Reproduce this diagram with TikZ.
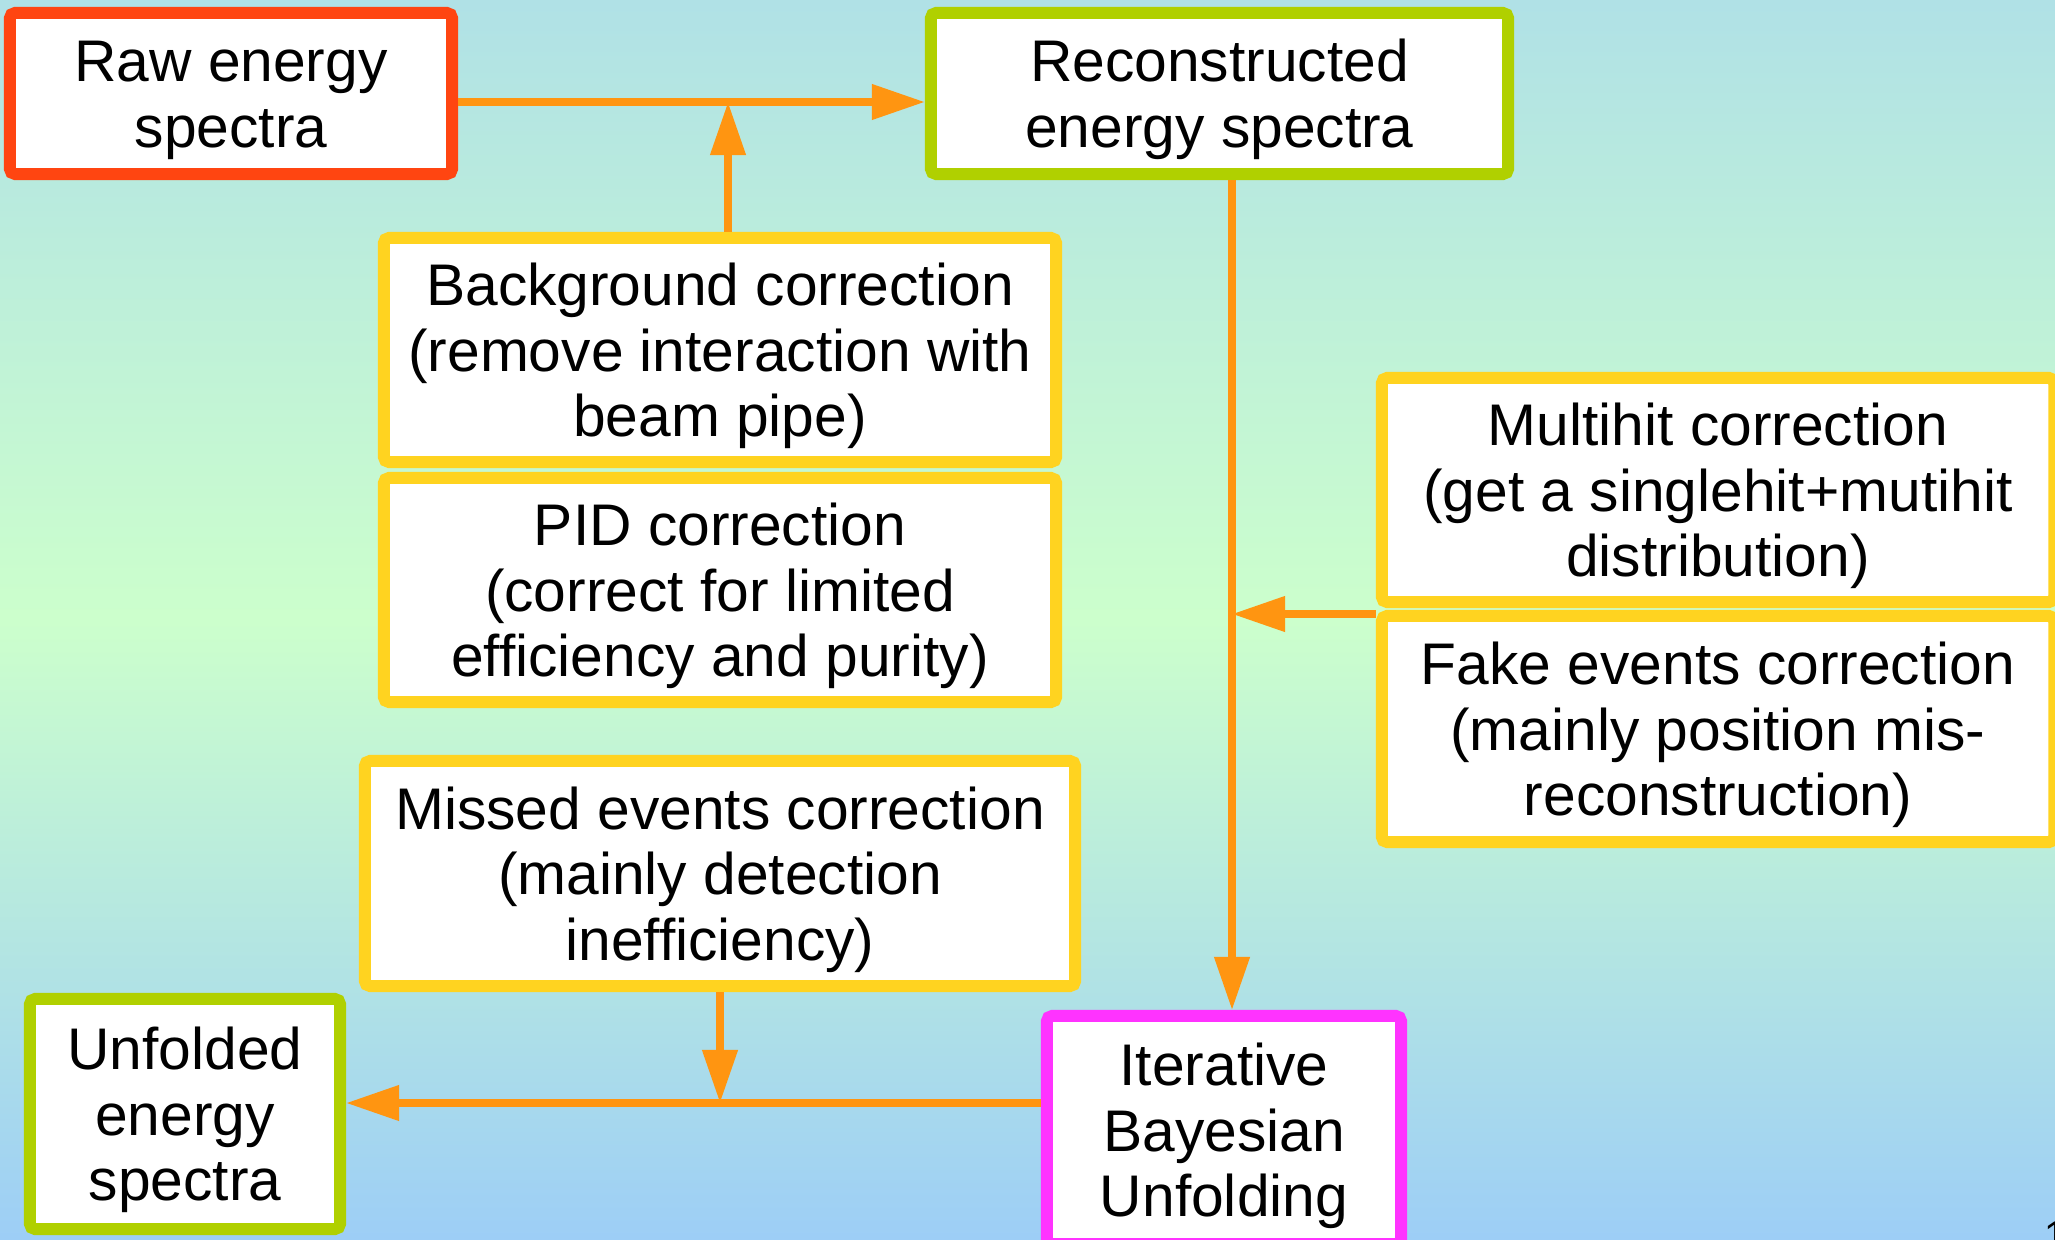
\documentclass[tikz,border=0pt]{standalone}
\usepackage{fontspec}
\setmainfont{Liberation Sans}
\usetikzlibrary{arrows.meta}
\definecolor{bgtop}{RGB}{176,225,230}
\definecolor{bgmid}{RGB}{204,255,204}
\definecolor{bgbot}{RGB}{157,206,246}
\definecolor{rawred}{RGB}{255,69,17}
\definecolor{specgreen}{RGB}{176,208,0}
\definecolor{corryellow}{RGB}{255,211,32}
\definecolor{ibupink}{RGB}{255,51,255}
\definecolor{flowor}{RGB}{255,149,17}
\newcommand{\tstrut}{\rule{0pt}{16pt}}
\newcommand{\bstrut}{\rule[-4pt]{0pt}{4pt}}
\tikzset{box/.style={draw, fill=white, line width=3.4pt, rounded corners=1.5pt, align=center, inner sep=0pt, font=\fontsize{16.7}{18.64}\selectfont},
  flow/.style={flowor, line width=2.1pt, -{Triangle[length=0.53cm,width=0.34cm]}}}

\begin{document}
\begin{tikzpicture}[x=0.01cm,y=-0.01cm]
   \useasboundingbox (0,0) rectangle (2055,1239);
   \shade[top color=bgtop, bottom color=bgbot, middle color=bgmid] (0,0) rectangle (2055,1239);
   % spectra
   \node[box, draw=rawred,    minimum width=4.42cm, minimum height=1.61cm] (raw)   at (231,93.5)   {\tstrut Raw energy\\spectra\bstrut};
   \node[box, draw=specgreen, minimum width=5.77cm, minimum height=1.61cm] (reco)  at (1219.5,93.5) {\tstrut Reconstructed\\energy spectra\bstrut};
   \node[box, draw=specgreen, minimum width=3.10cm, minimum height=2.30cm] (unf)   at (185,1114)   {\tstrut Unfolded\\energy\\spectra\bstrut};
   \node[box, draw=ibupink,   minimum width=3.54cm, minimum height=2.28cm] (iter)  at (1224,1130)  {\tstrut Iterative\\Bayesian\\Unfolding\bstrut};
   % corrections
   \node[box, draw=corryellow, minimum width=6.72cm, minimum height=2.24cm] (bkg)   at (720,350)   {\tstrut Background correction\\(remove interaction with\\beam pipe)\bstrut};
   \node[box, draw=corryellow, minimum width=6.72cm, minimum height=2.24cm] (pid)   at (720,590)   {\tstrut PID correction\\(correct for limited\\efficiency and purity)\bstrut};
   \node[box, draw=corryellow, minimum width=7.10cm, minimum height=2.25cm] (miss)  at (720,873.5) {\tstrut Missed events correction\\(mainly detection\\inefficiency)\bstrut};
   \node[box, draw=corryellow, minimum width=6.72cm, minimum height=2.24cm] (multi) at (1718,490)  {\tstrut Multihit correction\\(get a singlehit+mutihit\\distribution)\bstrut};
   \node[box, draw=corryellow, minimum width=6.72cm, minimum height=2.26cm] (fake)  at (1718,729)  {\tstrut Fake events correction\\(mainly position mis-\\reconstruction)\bstrut};
   \node[anchor=north west, inner sep=0pt, font=\fontsize{11.4}{13}\selectfont] (page) at (2044,1221) {1};
   % connectors
   \coordinate (topjoin) at (728,102);
   \coordinate (vjoin)   at (1232,614);
   \coordinate (botjoin) at (720,1103);
   \draw[flow] (raw.east |- topjoin) -- (reco.west |- topjoin);
   \draw[flow] (bkg.north -| topjoin) -- (topjoin);
   \draw[flow] (reco.south -| vjoin) -- (iter.north -| vjoin);
   \draw[flow] (fake.north west |- vjoin) -- (vjoin);
   \draw[flow] (iter.west |- botjoin) -- (unf.east |- botjoin);
   \draw[flow] (miss.south -| botjoin) -- (botjoin);
\end{tikzpicture}
\end{document}
